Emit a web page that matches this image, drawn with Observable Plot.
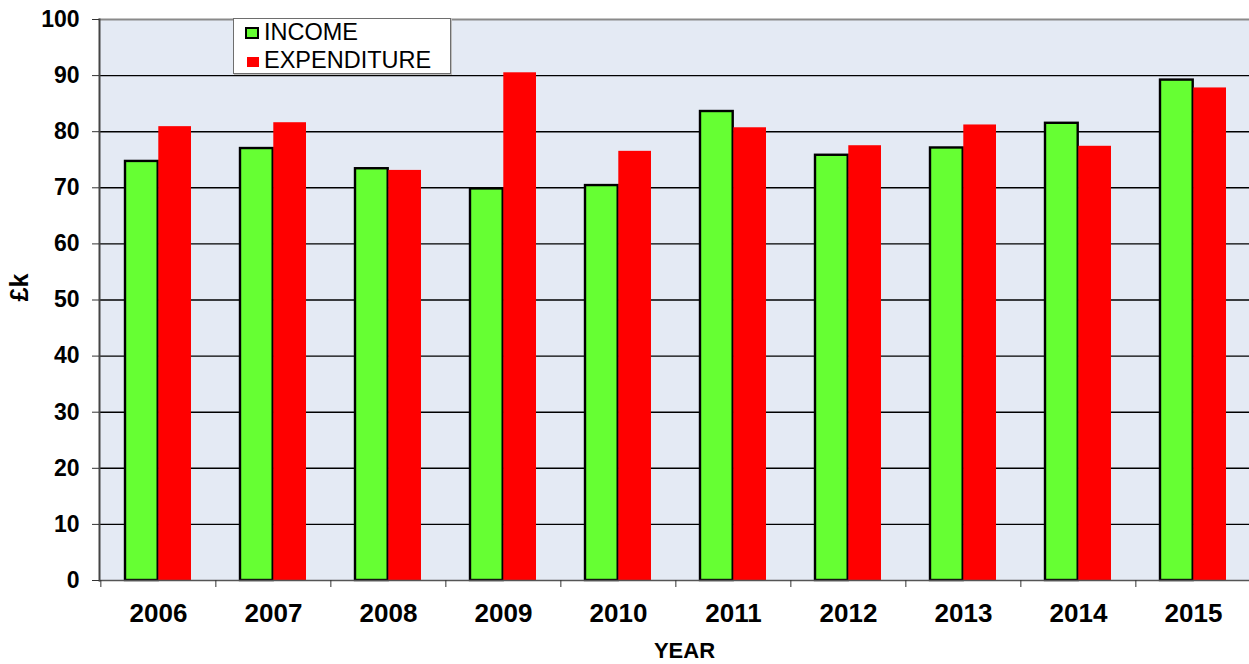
<!DOCTYPE html>
<html><head><meta charset="utf-8">
<script src="https://cdn.jsdelivr.net/npm/d3@7"></script>
<script src="https://cdn.jsdelivr.net/npm/@observablehq/plot@0.6"></script>
<style>
html,body{margin:0;padding:0;background:#fff;overflow:hidden;}
#wrap{position:relative;width:1249px;height:664px;}
#legend{position:absolute;left:233px;top:18px;width:216px;height:54px;background:#fff;border:1px solid #6e6e6e;box-shadow:1px 1px 0 #bdbdbd;font-family:"Liberation Sans",Arial,sans-serif;font-size:23.5px;color:#000;}
#legend .sw{position:absolute;box-sizing:border-box;}
#legend .lab{position:absolute;left:30px;line-height:22px;white-space:nowrap;}
</style></head><body>
<div id="wrap"><div id="legend"></div></div>
<script>
const years = ["2006","2007","2008","2009","2010","2011","2012","2013","2014","2015"];
const income = [74.7, 77.0, 73.4, 69.8, 70.4, 83.6, 75.8, 77.1, 81.5, 89.2];
const expenditure = [80.9, 81.6, 73.1, 90.5, 76.5, 80.7, 77.5, 81.2, 77.4, 87.8];
const yTicks = [0, 10, 20, 30, 40, 50, 60, 70, 80, 90, 100];
const seriesNames = ["INCOME", "EXPENDITURE"];
const seriesColors = ["#66FF33", "#FF0000"];
const xTitle = "YEAR";
const yTitle = "£k";

const incomeRows = years.map((y, i) => ({year: y, series: seriesNames[0], value: income[i]}));
const expRows = years.map((y, i) => ({year: y, series: seriesNames[1], value: expenditure[i]}));

const font = "'Liberation Sans', Arial, sans-serif";

const plot = Plot.plot({
  width: 1249, height: 664,
  marginLeft: 99, marginRight: 0, marginTop: 19, marginBottom: 84,
  style: {fontFamily: font, fontWeight: "bold", color: "#000", background: "transparent", overflow: "visible"},
  x: {domain: years, range: [99, 1252], paddingInner: 0.422, paddingOuter: 0.211, axis: null},
  y: {domain: [0, 100], axis: null},
  marks: [
    Plot.frame({fill: "#E4EAF4", stroke: null}),
    Plot.ruleY(yTicks.filter(t => t > 0 && t < 100), {stroke: "#000", strokeWidth: 1.4}),
    Plot.frame({anchor: "top", stroke: "#8a8a8a", strokeWidth: 2}),
    Plot.barY(incomeRows, {x: "year", y: "value", fill: seriesColors[0], stroke: "#000", strokeWidth: 2.4, insetRight: 33.3}),
    Plot.barY(expRows, {x: "year", y: "value", fill: seriesColors[1], insetLeft: 33.3}),
    Plot.ruleY([0], {stroke: "#555", strokeWidth: 1.5}),
    Plot.frame({anchor: "left", stroke: "#444", strokeWidth: 2}),
    Plot.axisY({ticks: yTicks, tickSize: 7, tickPadding: 13, fontSize: 23, fontWeight: "bold", stroke: "#333", label: null}),
    Plot.axisX({tickSize: 7, tickFormat: () => "", dx: -57.65, stroke: "#333", label: null}),
    Plot.axisX({tickSize: 0, tickPadding: 23, fontSize: 26, fontWeight: "bold", label: null}),
    Plot.text([xTitle], {text: d => d, frameAnchor: "bottom", dx: 10, dy: 77, fontSize: 22, fontWeight: "bold"}),
    Plot.text([yTitle], {text: d => d, frameAnchor: "left", rotate: -90, dx: -80, dy: 1.5, fontSize: 25, fontWeight: "bold"})
  ]
});
document.getElementById("wrap").prepend(plot);

// legend overlay
const legend = document.getElementById("legend");
const swatchStyles = [
  {left: 11, top: 8, w: 14, h: 12, border: "2px solid #000"},
  {left: 13, top: 38, w: 12, h: 10, border: "none"}
];
const labelTops = [2, 30];
seriesNames.forEach((name, i) => {
  const sw = document.createElement("div");
  sw.className = "sw";
  const s = swatchStyles[i];
  Object.assign(sw.style, {left: s.left + "px", top: s.top + "px", width: s.w + "px", height: s.h + "px", background: seriesColors[i], border: s.border});
  legend.appendChild(sw);
  const lab = document.createElement("div");
  lab.className = "lab";
  lab.style.top = labelTops[i] + "px";
  lab.textContent = name;
  legend.appendChild(lab);
});
</script>
</body></html>
